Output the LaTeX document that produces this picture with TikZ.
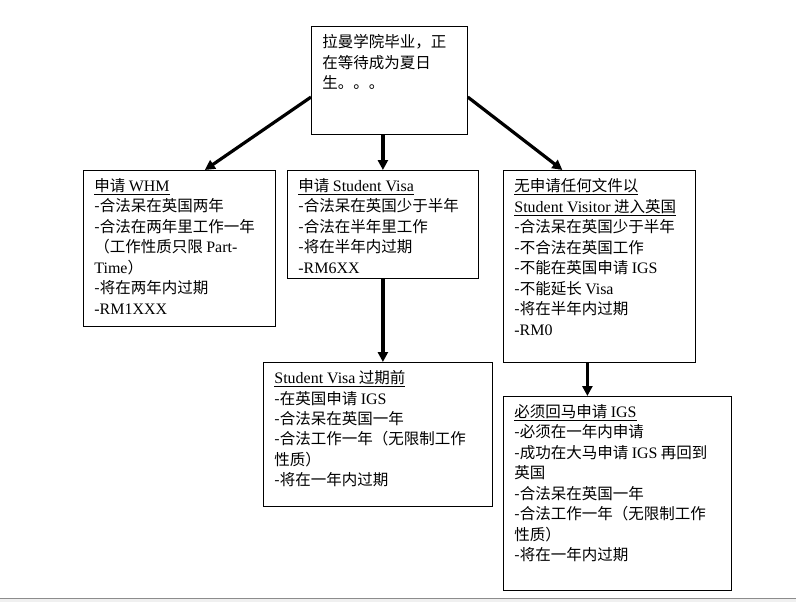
\documentclass[tikz,border=0pt]{standalone}
\usepackage{fontspec}
\setmainfont{Noto Sans CJK SC}
\newfontfamily\lat{Liberation Serif}[Scale=1.03]
\usetikzlibrary{arrows.meta,positioning}

\begin{document}
\begin{tikzpicture}[x=1pt,y=-1pt,
  info box/.style={draw,line width=0.8pt,anchor=north west,inner xsep=11pt,inner ysep=8pt,font=\fontsize{15.5}{20.5}\selectfont},
  flow arrow/.style={line width=3.2pt,-{Triangle[length=10pt,width=10pt]}}]
\useasboundingbox (0,0) rectangle (796,602);
\fill[white] (0,0) rectangle (796,598);
\fill[black!6] (0,598) rectangle (796,602);
\draw[black!45,line width=1pt] (0,598) -- (796,598);
\begin{scope}
\node[info box] (top) at (311,26) {\parbox[c][92pt][t]{134pt}{拉曼学院毕业，正\\在等待成为夏日\\生。。。}};
\node[info box] (whm) at (83,170) {\parbox[c][140pt][t]{170pt}{\underline{申请 {\lat WHM}}\\-合法呆在英国两年\\-合法在两年里工作一年\\（工作性质只限 {\lat Part-}\\{\lat Time}）\\-将在两年内过期\\{\lat -RM1XXX}}};
\node[info box] (sv) at (287,170) {\parbox[c][92pt][t]{169pt}{\underline{申请 {\lat Student Visa}}\\-合法呆在英国少于半年\\-合法在半年里工作\\-将在半年内过期\\{\lat -RM6XX}}};
\node[info box] (noapp) at (503,170) {\parbox[c][176pt][t]{170pt}{\underline{无申请任何文件以}\\\underline{{\lat Student Visitor} 进入英国}\\-合法呆在英国少于半年\\-不合法在英国工作\\-不能在英国申请 {\lat IGS}\\-不能延长 {\lat Visa}\\-将在半年内过期\\{\lat -RM0}}};
\node[info box] (svb) at (263,362) {\parbox[c][128pt][t]{207pt}{\underline{{\lat Student Visa} 过期前}\\-在英国申请 {\lat IGS}\\-合法呆在英国一年\\-合法工作一年（无限制工作\\性质）\\-将在一年内过期}};
\node[info box] (must) at (503,396) {\parbox[c][178pt][t]{206pt}{\underline{必须回马申请 {\lat IGS}}\\-必须在一年内申请\\-成功在大马申请 {\lat IGS} 再回到\\英国\\-合法呆在英国一年\\-合法工作一年（无限制工作\\性质）\\-将在一年内过期}};
\end{scope}
\begin{scope}
\draw[flow arrow] (top.192) -- (whm.72);
\draw[flow arrow] (sv.north |- top.south) -- (sv.north);
\draw[flow arrow] (top.348) -- (noapp.111);
\draw[flow arrow] (sv.south) -- (sv.south |- svb.north);
\draw[flow arrow] ([xshift=-12pt]noapp.south) -- ([xshift=-12pt]noapp.south |- must.north);
\end{scope}
\end{tikzpicture}
\end{document}
